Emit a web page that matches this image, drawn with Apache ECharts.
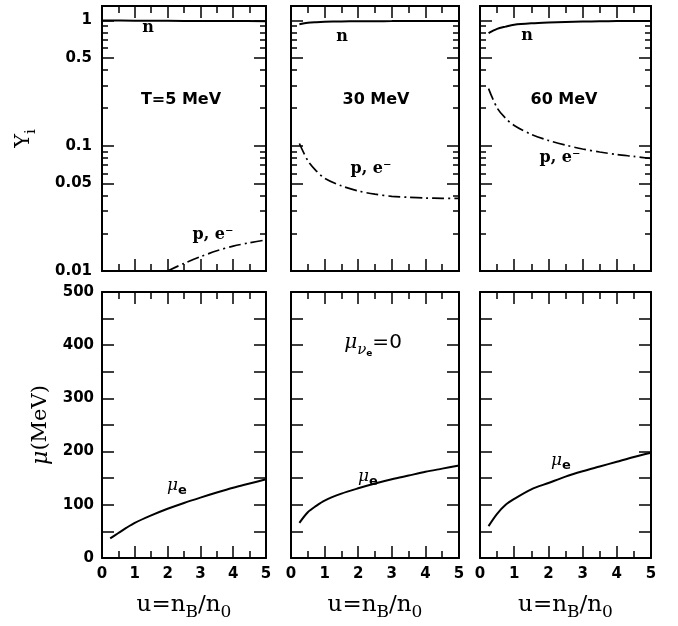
<!DOCTYPE html>
<html><head><meta charset="utf-8">
<script src="https://cdn.jsdelivr.net/npm/echarts@6/dist/echarts.min.js"></script>
<style>html,body{margin:0;padding:0;background:#fff}#c{width:678px;height:626px}</style>
</head><body><div id="c"></div>
<script>
// ---- data ----
const uT5n = [0, 1, 2, 3, 4, 5];
const yT5n = [0.995, 0.993, 0.990, 0.988, 0.986, 0.984];
const uT5p = [2.0, 2.5, 3.0, 3.5, 4.0, 4.5, 5.0];
const yT5p = [0.0100, 0.0115, 0.0130, 0.0145, 0.0158, 0.0168, 0.0177];
const uGrid = [0.25, 0.5, 0.75, 1, 1.5, 2, 2.5, 3, 3.5, 4, 4.5, 5];
const yT30n = [0.93, 0.955, 0.966, 0.973, 0.979, 0.982, 0.984, 0.985, 0.986, 0.986, 0.987, 0.987];
const yT30p = [0.104, 0.076, 0.063, 0.055, 0.0478, 0.0435, 0.041, 0.0394, 0.0387, 0.0382, 0.0380, 0.0379];
const yT60n = [0.79, 0.855, 0.89, 0.92, 0.945, 0.96, 0.97, 0.977, 0.982, 0.985, 0.987, 0.988];
const yT60p = [0.285, 0.200, 0.165, 0.145, 0.123, 0.110, 0.101, 0.094, 0.089, 0.085, 0.082, 0.079];
const muT5  = [37, 47, 57, 66, 80, 92.5, 103.5, 113.5, 123, 132, 140, 148];
const muT30 = [66, 86, 98, 108, 121, 131, 140, 148, 155, 162, 168, 174];
const muT60 = [60, 83, 100, 111, 129, 141, 153, 163, 172, 181, 190, 198];
const logMajorTicks = [0.01, 0.05, 0.1, 0.5, 1];
const logMinorTicks = [0.02, 0.03, 0.04, 0.06, 0.07, 0.08, 0.09, 0.2, 0.3, 0.4, 0.6, 0.7, 0.8, 0.9];
const logTickLabels = [0.01, 0.05, 0.1, 0.5, 1];
const panelTitles = ['T=5 MeV', '30 MeV', '60 MeV'];

// ---- layout ----
const colLeft = [102, 291, 480];
const colWidth = [164, 168, 171];
const rowTop = [6, 292];
const rowHeight = [265, 266];

const BLACK = '#000';
const tickFont = {fontFamily: 'DejaVu Sans', fontWeight: 'bold', fontSize: 15, color: BLACK};
const pairs = (xs, ys) => xs.map((x, i) => [x, ys[i]]);

const grids = [], xAxes = [], yAxes = [], series = [];
for (let r = 0; r < 2; r++) {
  for (let c = 0; c < 3; c++) {
    const g = grids.length;
    grids.push({left: colLeft[c], top: rowTop[r], width: colWidth[c], height: rowHeight[r], containLabel: false});
    const xBase = {
      type: 'value', gridIndex: g, min: 0, max: 5, interval: 1,
      axisLine: {show: true, onZero: false, lineStyle: {color: BLACK, width: 2}},
      axisTick: {show: true, inside: true, length: 12, lineStyle: {color: BLACK, width: 1.5}},
      minorTick: {show: true, splitNumber: 2, length: 7, lineStyle: {color: BLACK, width: 1.5}},
      splitLine: {show: false}, minorSplitLine: {show: false}
    };
    const xb = Object.assign({}, xBase, {position: 'bottom',
      axisLabel: Object.assign({show: r === 1, margin: 9}, tickFont)});
    if (r === 1) {
      xb.name = '{a|u=n}{s|B}{a|/n}{s|0}';
      xb.nameLocation = 'middle';
      xb.nameGap = 31;
      xb.nameTextStyle = {rich: {
        a: {fontFamily: 'DejaVu Serif', fontSize: 23, color: BLACK, lineHeight: 32, verticalAlign: 'middle'},
        s: {fontFamily: 'DejaVu Serif', fontSize: 17, color: BLACK, lineHeight: 18, verticalAlign: 'bottom'}
      }};
    }
    xAxes.push(xb);
    const xTopIdx = xAxes.length;
    xAxes.push(Object.assign({}, xBase, {position: 'top', axisLabel: {show: false}}));
    const xBotIdx = xTopIdx - 1;

    let yMainIdx;
    if (r === 0) {
      const yBase = {
        type: 'log', logBase: 10, gridIndex: g, min: 0.01, max: 1.3,
        axisLine: {show: true, onZero: false, lineStyle: {color: BLACK, width: 2}},
        splitLine: {show: false}, minorTick: {show: false}
      };
      yMainIdx = yAxes.length;
      const yl = Object.assign({}, yBase, {position: 'left',
        axisTick: {show: true, inside: true, length: 12, customValues: logMajorTicks, lineStyle: {color: BLACK, width: 1.5}},
        axisLabel: Object.assign({show: c === 0, margin: 10, customValues: logTickLabels,
          formatter: v => String(+Number(v).toPrecision(2))}, tickFont)});
      if (c === 0) {
        yl.name = '{a|Y}{s|i}';
        yl.nameLocation = 'middle';
        yl.nameGap = 63;
        yl.nameRotate = 90;
        yl.nameTextStyle = {rich: {
          a: {fontFamily: 'DejaVu Serif', fontSize: 21, color: BLACK, lineHeight: 30, verticalAlign: 'middle'},
          s: {fontFamily: 'DejaVu Serif', fontSize: 15, color: BLACK, lineHeight: 18, verticalAlign: 'bottom'}
        }};
      }
      yAxes.push(yl);
      yAxes.push(Object.assign({}, yBase, {position: 'left',
        axisTick: {show: true, inside: true, length: 6, customValues: logMinorTicks, lineStyle: {color: BLACK, width: 1.5}},
        axisLabel: {show: false, customValues: []}}));
      yAxes.push(Object.assign({}, yBase, {position: 'right',
        axisTick: {show: true, inside: true, length: 12, customValues: logMajorTicks, lineStyle: {color: BLACK, width: 1.5}},
        axisLabel: {show: false, customValues: []}}));
      yAxes.push(Object.assign({}, yBase, {position: 'right',
        axisTick: {show: true, inside: true, length: 6, customValues: logMinorTicks, lineStyle: {color: BLACK, width: 1.5}},
        axisLabel: {show: false, customValues: []}}));
    } else {
      const yBase = {
        type: 'value', gridIndex: g, min: 0, max: 500, interval: 100,
        axisLine: {show: true, onZero: false, lineStyle: {color: BLACK, width: 2}},
        axisTick: {show: true, inside: true, length: 12, lineStyle: {color: BLACK, width: 1.5}},
        minorTick: {show: true, splitNumber: 2, length: 12, lineStyle: {color: BLACK, width: 1.5}},
        splitLine: {show: false}, minorSplitLine: {show: false}
      };
      yMainIdx = yAxes.length;
      const yl = Object.assign({}, yBase, {position: 'left',
        axisLabel: Object.assign({show: c === 0, margin: 8}, tickFont)});
      if (c === 0) {
        yl.name = '{m|μ}{a|(MeV)}';
        yl.nameLocation = 'middle';
        yl.nameGap = 50;
        yl.nameRotate = 90;
        yl.nameTextStyle = {rich: {
          m: {fontFamily: 'DejaVu Serif', fontStyle: 'italic', fontSize: 22, color: BLACK},
          a: {fontFamily: 'DejaVu Serif', fontSize: 21, color: BLACK}
        }};
      }
      yAxes.push(yl);
      yAxes.push(Object.assign({}, yBase, {position: 'right', axisLabel: {show: false}}));
    }

    const common = {type: 'line', xAxisIndex: xBotIdx, yAxisIndex: yMainIdx, showSymbol: false,
      smooth: 0.3, silent: true, clip: true, z: 5};
    const solid = {color: BLACK, width: 2, type: 'solid'};
    const dashdot = {color: BLACK, width: 1.7, type: [12, 4, 2, 4]};
    if (r === 0) {
      if (c === 0) {
        series.push(Object.assign({}, common, {name: 'n T5', data: pairs(uT5n, yT5n), lineStyle: solid}));
        series.push(Object.assign({}, common, {name: 'p T5', data: pairs(uT5p, yT5p), lineStyle: dashdot}));
      } else if (c === 1) {
        series.push(Object.assign({}, common, {name: 'n T30', data: pairs(uGrid, yT30n), lineStyle: solid}));
        series.push(Object.assign({}, common, {name: 'p T30', data: pairs(uGrid, yT30p), lineStyle: dashdot}));
      } else {
        series.push(Object.assign({}, common, {name: 'n T60', data: pairs(uGrid, yT60n), lineStyle: solid}));
        series.push(Object.assign({}, common, {name: 'p T60', data: pairs(uGrid, yT60p), lineStyle: dashdot}));
      }
    } else {
      const mu = [muT5, muT30, muT60][c];
      series.push(Object.assign({}, common, {name: 'mu_e ' + c, data: pairs(uGrid, mu), lineStyle: solid}));
    }
  }
}

// ---- text annotations ----
const annFont = 'bold 16px "DejaVu Sans"';
const txt = (x, y, text, extra) => ({type: 'text', x: x, y: y, z: 10,
  style: Object.assign({text: text, font: annFont, fill: BLACK, align: 'center', verticalAlign: 'middle'}, extra || {})});
const serifBold = 'bold 16px "DejaVu Serif"';
const muRich = {
  m: {fontFamily: 'DejaVu Serif', fontStyle: 'italic', fontSize: 17, fill: BLACK, lineHeight: 22, verticalAlign: 'middle'},
  e: {fontFamily: 'DejaVu Sans', fontWeight: 'bold', fontSize: 13, fill: BLACK, lineHeight: 14, verticalAlign: 'bottom'}
};
const graphics = [
  txt(181, 100, panelTitles[0]), txt(376, 100, panelTitles[1]), txt(564, 100, panelTitles[2]),
  txt(148, 28, 'n', {font: serifBold}), txt(342, 37, 'n', {font: serifBold}), txt(527, 36, 'n', {font: serifBold}),
  txt(213, 235, 'p, e⁻', {font: serifBold}), txt(371, 169, 'p, e⁻', {font: serifBold}), txt(560, 158, 'p, e⁻', {font: serifBold}),
  txt(177, 486, '{m|μ}{e|e}', {rich: muRich}), txt(368, 477, '{m|μ}{e|e}', {rich: muRich}), txt(561, 461, '{m|μ}{e|e}', {rich: muRich}),
  txt(373, 343, '{m|μ}{n|ν}{e|e}{q|=0}', {rich: {
    m: {fontFamily: 'DejaVu Serif', fontStyle: 'italic', fontSize: 20, fill: BLACK, lineHeight: 30, verticalAlign: 'middle'},
    n: {fontFamily: 'DejaVu Serif', fontStyle: 'italic', fontSize: 15, fill: BLACK, lineHeight: 22, verticalAlign: 'bottom'},
    e: {fontFamily: 'DejaVu Sans', fontWeight: 'bold', fontSize: 9, fill: BLACK, lineHeight: 10, verticalAlign: 'bottom'},
    q: {fontFamily: 'DejaVu Sans', fontSize: 20, fill: BLACK, lineHeight: 30, verticalAlign: 'middle'}
  }})
];

const chart = echarts.init(document.getElementById('c'), null, {renderer: 'canvas'});
chart.setOption({
  animation: false,
  backgroundColor: '#fff',
  grid: grids, xAxis: xAxes, yAxis: yAxes, series: series,
  graphic: graphics
});
</script></body></html>
